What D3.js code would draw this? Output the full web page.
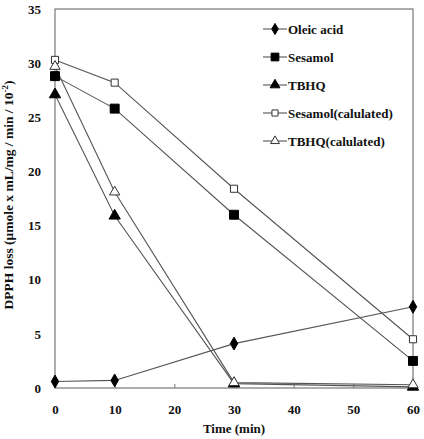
<!DOCTYPE html>
<html>
<head>
<meta charset="utf-8">
<script src="https://cdn.jsdelivr.net/npm/d3@7"></script>
<style>
  body { margin: 0; background: #fff; }
</style>
</head>
<body>
<svg id="chart" width="424" height="439"></svg>
<script>
const times = [0, 10, 30, 60]
const oleic = [0.6, 0.7, 4.1, 7.5]
const sesamol = [28.8, 25.8, 16.0, 2.5]
const tbhq = [27.1, 15.9, 0.4, 0.1]
const sesamolCalc = [30.3, 28.2, 18.4, 4.5]
const tbhqCalc = [29.7, 18.1, 0.5, 0.3]
const xTicks = [0, 10, 20, 30, 40, 50, 60]
const yTicks = [0, 5, 10, 15, 20, 25, 30, 35]

const series = [
  { name: 'Oleic acid', values: oleic, symbol: d3.symbolDiamond, size: 48, fill: '#000' },
  { name: 'Sesamol', values: sesamol, symbol: d3.symbolSquare, size: 80, fill: '#000' },
  { name: 'TBHQ', values: tbhq, symbol: d3.symbolTriangle, size: 55, fill: '#000' },
  { name: 'Sesamol(calulated)', values: sesamolCalc, symbol: d3.symbolSquare, size: 50, fill: '#fff' },
  { name: 'TBHQ(calulated)', values: tbhqCalc, symbol: d3.symbolTriangle, size: 45, fill: '#fff' }
]

const FONT = '"Liberation Serif", "Times New Roman", serif'

const padding = { top: 9, right: 11, bottom: 51, left: 55 }
const width = 424, height = 439
const innerWidth = width - padding.left - padding.right
const innerHeight = height - padding.top - padding.bottom

const svg = d3.select('#chart')

const xScale = d3.scaleLinear().domain([0, 60]).range([0, innerWidth])
const yScale = d3.scaleLinear().domain([0, 35]).range([innerHeight, 0])

const g = svg.append('g')
  .attr('transform', `translate(${ padding.left },${ padding.top })`)

// frame
g.append('rect')
  .attr('width', innerWidth)
  .attr('height', innerHeight)
  .attr('fill', 'none')
  .attr('stroke', '#777')
  .attr('stroke-width', 1.2)

g.append('g')
  .attr('class', 'axis x-axis')
  .attr('transform', `translate(0,${ innerHeight })`)
  .call(d3.axisBottom(xScale).tickValues(xTicks).tickSizeInner(-4).tickSizeOuter(0).tickPadding(17))

g.append('g')
  .attr('class', 'axis y-axis')
  .call(d3.axisLeft(yScale).tickValues(yTicks).tickSizeInner(0).tickSizeOuter(0).tickPadding(14))

svg.selectAll('.axis path').remove()
svg.selectAll('.axis line').attr('stroke', '#777')
svg.selectAll('.axis')
  .attr('font-family', null)
  .attr('font-size', null)
svg.selectAll('.axis text')
  .style('font-family', FONT)
  .style('font-weight', 'bold')
  .style('font-size', '13px')
  .attr('fill', '#111')

// lines
const line = d3.line()
  .x((d, i) => xScale(times[i]))
  .y(d => yScale(d))

series.forEach(s => {
  g.append('path')
    .datum(s.values)
    .attr('d', line)
    .attr('fill', 'none')
    .attr('stroke', '#555')
    .attr('stroke-width', 1.1)
})

series.forEach(s => {
  g.selectAll(null)
    .data(s.values)
    .enter()
    .append('path')
    .attr('d', d3.symbol().type(s.symbol).size(s.size))
    .attr('transform', (d, i) => `translate(${ xScale(times[i]) },${ yScale(d) })`)
    .attr('fill', s.fill)
    .attr('stroke', s.fill === '#fff' ? '#333' : '#000')
    .attr('stroke-width', 1)
})

// legend
const legend = svg.append('g')
  .attr('transform', 'translate(263,29)')

series.forEach((s, i) => {
  const row = legend.append('g').attr('transform', `translate(0,${ i * 28 })`)
  row.append('line')
    .attr('x1', 0).attr('x2', 24)
    .attr('stroke', '#555')
    .attr('stroke-width', 1.1)
  row.append('path')
    .attr('d', d3.symbol().type(s.symbol).size(s.size * 0.75))
    .attr('transform', 'translate(12,0)')
    .attr('fill', s.fill)
    .attr('stroke', s.fill === '#fff' ? '#333' : '#000')
  row.append('text')
    .attr('x', 25)
    .attr('y', 5)
    .style('font-family', FONT)
    .style('font-weight', 'bold')
    .style('font-size', '13px')
    .attr('fill', '#111')
    .text(s.name)
})

// axis titles
svg.append('text')
  .attr('x', padding.left + innerWidth / 2)
  .attr('y', 433)
  .attr('text-anchor', 'middle')
  .style('font-family', FONT)
  .style('font-weight', 'bold')
  .style('font-size', '13px')
  .attr('fill', '#111')
  .text('Time (min)')

const yTitle = svg.append('text')
  .attr('transform', 'translate(13,195) rotate(-90)')
  .attr('text-anchor', 'middle')
  .style('font-family', FONT)
  .style('font-weight', 'bold')
  .style('font-size', '13.5px')
  .attr('fill', '#111')
yTitle.append('tspan').text('DPPH loss (μmole x mL/mg / min / 10')
yTitle.append('tspan').attr('dy', -5).style('font-size', '9px').text('-2')
yTitle.append('tspan').attr('dy', 5).text(')')
</script>
</body>
</html>
